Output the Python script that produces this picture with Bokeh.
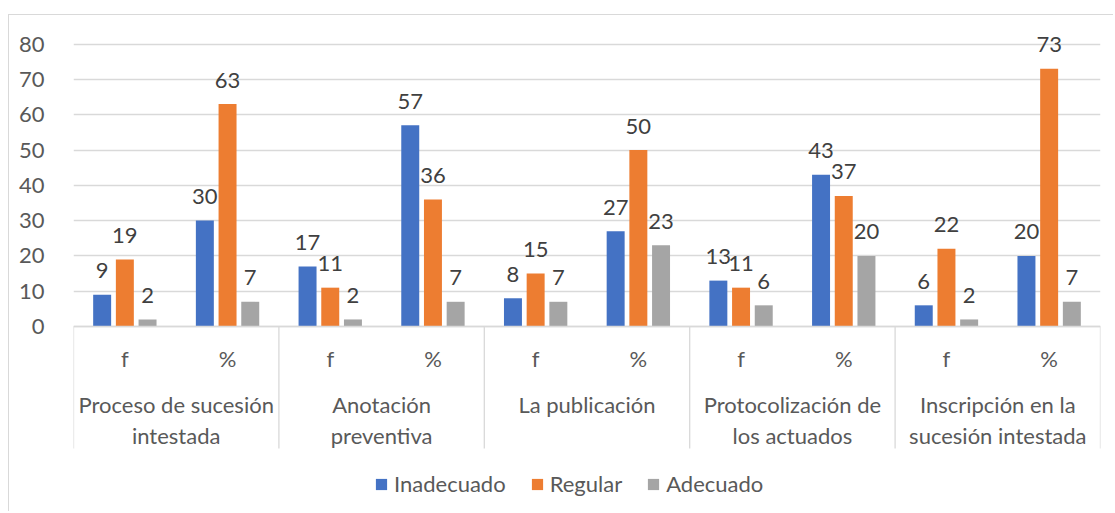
from bokeh.plotting import figure
from bokeh.models import (Range1d, FixedTicker, ColumnDataSource, Legend, LegendItem)
from bokeh.transform import dodge
from bokeh.core.properties import value
from bokeh.embed import file_html
from bokeh.resources import INLINE

# ---- data ----
categories = ["Proceso de sucesión\nintestada", "Anotación\npreventiva", "La publicación",
              "Protocolización de\nlos actuados", "Inscripción en la\nsucesión intestada"]
subcats = ["f", "%"]
series = ["Inadecuado", "Regular", "Adecuado"]
inadecuado = [9, 30, 17, 57, 8, 27, 13, 43, 6, 20]
regular = [19, 63, 11, 36, 15, 50, 11, 37, 22, 73]
adecuado = [2, 7, 2, 7, 7, 23, 6, 20, 2, 7]
y_ticks = [0, 10, 20, 30, 40, 50, 60, 70, 80]

colors = ["#4472C4", "#ED7D31", "#A5A5A5"]
FONT = "Lato"
FS = "22px"

# ---- layout constants (pixels) ----
W, H = 1105, 497
ML, MR, MT, MB = 64, 14, 5, 0
frame_w = W - ML - MR
frame_h = H - MT - MB
n_slots = len(categories) * len(subcats)
K = 3.53            # px per y unit
y0_from_top = 306   # pixel of y=0 from frame top
y_end = y0_from_top / K
y_start = -(frame_h - y0_from_top) / K

p = figure(width=W, height=H, output_backend="svg", toolbar_location=None,
           x_range=Range1d(0, n_slots), y_range=Range1d(y_start, y_end),
           min_border_left=ML, min_border_right=MR, min_border_top=MT, min_border_bottom=MB,
           styles={"margin-top": "14px", "margin-left": "8px",
                   "border-top": "1px solid #d9d9d9",
                   "border-left": "1px solid #d9d9d9"})
p.outline_line_color = None
p.xaxis.visible = False
p.xgrid.visible = False
p.ygrid.ticker = FixedTicker(ticks=y_ticks)
p.ygrid.grid_line_color = "#d9d9d9"
p.ygrid.grid_line_width = 1.3
p.yaxis.ticker = FixedTicker(ticks=y_ticks)
p.yaxis.axis_line_color = None
p.yaxis.major_tick_line_color = None
p.yaxis.minor_tick_line_color = None
p.yaxis.major_label_standoff = 23
p.yaxis.major_label_text_font = FONT
p.yaxis.major_label_text_font_size = FS
p.yaxis.major_label_text_color = "#595959"

slot_x = [i + 0.5 for i in range(n_slots)]
src = ColumnDataSource(dict(x=slot_x, Inadecuado=inadecuado, Regular=regular, Adecuado=adecuado))
offsets = [-0.221, 0.0, 0.221]
items = []
for name, col, off in zip(series, colors, offsets):
    r = p.vbar(x=dodge("x", off), top=name, width=0.175, source=src,
               fill_color=col, line_color=None)
    items.append(LegendItem(label=name, renderers=[r]))
    p.text(x=dodge("x", off), y=name, text=name, source=src,
           text_align="center", text_baseline="middle", y_offset=-24,
           text_font=value(FONT), text_font_size=FS, text_color="#404040")

# ---- category axis ----
n_cat = len(categories)
line_bottom = -(448 - 326) / K
p.segment(x0=[0], y0=[0], x1=[n_slots], y1=[0], line_color="#d9d9d9", line_width=1.3)
sep_x = [i * len(subcats) for i in range(n_cat + 1)]
p.segment(x0=sep_x, y0=[0] * len(sep_x), x1=sep_x, y1=[line_bottom] * len(sep_x),
          line_color="#d9d9d9", line_width=1.3)
sub_labels = [s for _ in categories for s in subcats]
p.text(x=slot_x, y=[0] * n_slots, text=sub_labels, y_offset=32,
       text_align="center", text_baseline="middle",
       text_font=value(FONT), text_font_size=FS, text_color="#595959")
cat_x = [i * len(subcats) + len(subcats) / 2 for i in range(n_cat)]
p.text(x=cat_x, y=[0] * n_cat, text=categories, y_offset=64,
       text_align="center", text_baseline="top", text_line_height=1.18,
       text_font=value(FONT), text_font_size=FS, text_color="#595959")

legend = Legend(items=items, orientation="horizontal", location=(301, 15))
legend.glyph_width = 14
legend.glyph_height = 14
legend.label_standoff = 6
legend.spacing = 24
legend.padding = 0
legend.margin = 0
legend.border_line_color = None
legend.background_fill_alpha = 0
legend.label_text_font = FONT
legend.label_text_font_size = FS
legend.label_text_color = "#595959"
p.add_layout(legend)

open("out.html", "w").write(file_html(p, INLINE))
